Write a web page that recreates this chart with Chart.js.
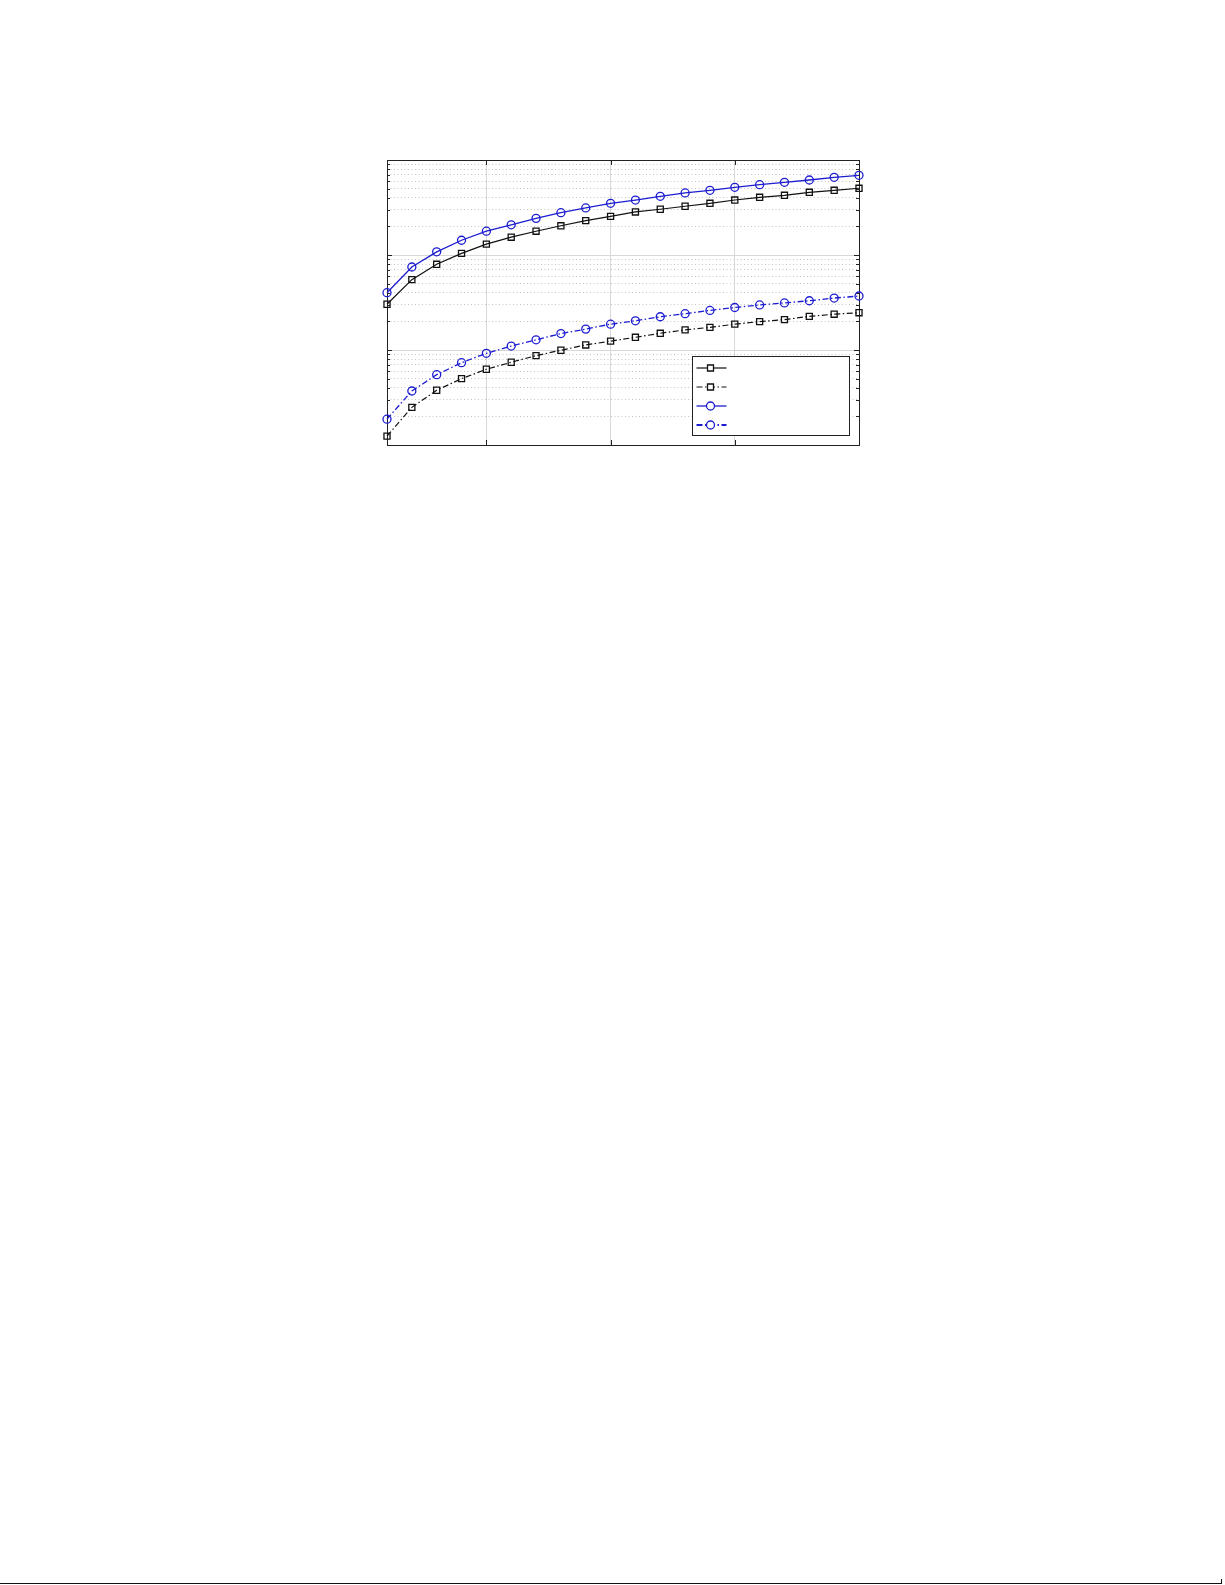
<!DOCTYPE html>
<html>
<head>
<meta charset="utf-8">
<script src="https://cdn.jsdelivr.net/npm/chart.js@4/dist/chart.umd.min.js"></script>
<style>
  body { margin: 0; background: #fff; width: 1225px; height: 1585px; position: relative; overflow: hidden; }
  #wrap { position: absolute; left: 0; top: 0; width: 1225px; height: 500px; }
  #rule { position: absolute; left: 0; top: 1583px; width: 1222px; height: 1px; background: #111; }
  #rulEnd { position: absolute; left: 1221px; top: 1579px; width: 1px; height: 5px; background: #111; }
</style>
</head>
<body>
<div id="wrap"><canvas id="canvas"></canvas></div>
<div id="rule"></div><div id="rulEnd"></div>
<script>
// x positions 1..20
var xs = [1,2,3,4,5,6,7,8,9,10,11,12,13,14,15,16,17,18,19,20];
var xTicks = [5, 10, 15];

// solid black, squares
var sqSolid = [0.0303,0.0550,0.0798,0.104,0.130,0.154,0.178,0.203,0.230,0.255,
               0.284,0.303,0.326,0.350,0.379,0.405,0.425,0.457,0.480,0.504];
// dash-dot black, squares
var sqDash = [0.00124,0.00249,0.00377,0.00499,0.00627,0.00743,0.00872,0.00994,0.0113,0.0124,
              0.0136,0.0150,0.0163,0.0173,0.0187,0.0199,0.0209,0.0226,0.0238,0.0247];
// solid blue, circles
var ciSolid = [0.0401,0.0748,0.108,0.143,0.178,0.208,0.243,0.279,0.313,0.350,
               0.379,0.415,0.450,0.480,0.516,0.550,0.582,0.616,0.657,0.690];
// dash-dot blue, circles
var ciDash = [0.00187,0.00370,0.00550,0.00735,0.00923,0.0110,0.0128,0.0149,0.0166,0.0187,
              0.0203,0.0224,0.0241,0.0261,0.0280,0.0298,0.0313,0.0330,0.0352,0.0370];

var blue = '#1c1cd0';
var dashDot = [6, 2.5, 1.5, 2.5];

function pts(arr) {
    return arr.map(function(v, i) { return {x: xs[i], y: v}; });
}

function isMajor(v) {
    var l = Math.log10(v);
    return Math.abs(l - Math.round(l)) < 1e-6;
}

var frame = {
    id: 'frame',
    beforeDatasetsDraw: function(chart) {
        var c = chart.ctx, a = chart.chartArea;
        var sx = chart.scales.x, sy = chart.scales.y;
        c.save();
        c.strokeStyle = '#222';
        c.lineWidth = 1;
        c.beginPath();
        sy.ticks.forEach(function(t) {
            var y = Math.round(sy.getPixelForValue(t.value)) + 0.5;
            var len = isMajor(t.value) ? 5 : 3;
            c.moveTo(a.left, y); c.lineTo(a.left + len, y);
            c.moveTo(a.right, y); c.lineTo(a.right - len, y);
        });
        xTicks.forEach(function(v) {
            var x = Math.round(sx.getPixelForValue(v)) + 0.5;
            c.moveTo(x, a.top); c.lineTo(x, a.top + 5);
            c.moveTo(x, a.bottom); c.lineTo(x, a.bottom - 5);
        });
        c.stroke();
        c.strokeRect(Math.round(a.left) + 0.5, Math.round(a.top) + 0.5,
                     Math.round(a.right - a.left), Math.round(a.bottom - a.top));
        c.restore();
    }
};

var boxLegend = {
    id: 'boxLegend',
    afterDatasetsDraw: function(chart) {
        var c = chart.ctx, a = chart.chartArea;
        var w = 157, h = 79;
        var left = Math.round(a.right - 10 - w) + 0.5, top = Math.round(a.bottom - 10 - h) + 0.5;
        c.save();
        c.fillStyle = '#fff';
        c.fillRect(left, top, w, h);
        c.strokeStyle = '#222';
        c.lineWidth = 1;
        c.strokeRect(left, top, w, h);
        var rows = [11, 30, 49, 68];
        chart.data.datasets.forEach(function(ds, i) {
            var y = Math.round(top + rows[i]);
            c.strokeStyle = ds.borderColor;
            c.lineWidth = i === 3 ? 2 : ds.borderWidth;
            c.setLineDash(ds.borderDash || []);
            c.beginPath();
            c.moveTo(left + 4, y); c.lineTo(left + 34, y);
            c.stroke();
            c.setLineDash([]);
            c.lineWidth = 1.3;
            var mx = left + 18;
            c.beginPath();
            if (ds.pointStyle === 'rect') {
                c.rect(mx - 3, y - 3, 6, 6);
            } else {
                c.arc(mx, y, 4, 0, Math.PI * 2);
            }
            c.fillStyle = '#fff';
            c.fill();
            c.stroke();
        });
        c.restore();
    }
};

var ctx = document.getElementById('canvas').getContext('2d');
var myChart = new Chart(ctx, {
    type: 'line',
    data: {
        datasets: [{
            data: pts(sqSolid),
            borderColor: '#111',
            borderWidth: 1.2,
            pointStyle: 'rect',
            pointRadius: 4.3,
            pointBorderWidth: 1.3,
            pointBackgroundColor: 'rgba(0,0,0,0)',
            clip: false
        }, {
            data: pts(sqDash),
            borderColor: '#111',
            borderWidth: 1.2,
            borderDash: dashDot,
            pointStyle: 'rect',
            pointRadius: 4.3,
            pointBorderWidth: 1.3,
            pointBackgroundColor: 'rgba(0,0,0,0)',
            clip: false
        }, {
            data: pts(ciSolid),
            borderColor: blue,
            borderWidth: 1.3,
            pointStyle: 'circle',
            pointRadius: 4,
            pointBorderWidth: 1.3,
            pointBackgroundColor: 'rgba(0,0,0,0)',
            clip: false
        }, {
            data: pts(ciDash),
            borderColor: blue,
            borderWidth: 1.3,
            borderDash: dashDot,
            pointStyle: 'circle',
            pointRadius: 4,
            pointBorderWidth: 1.3,
            pointBackgroundColor: 'rgba(0,0,0,0)',
            clip: false
        }]
    },
    options: {
        responsive: true,
        maintainAspectRatio: false,
        animation: false,
        devicePixelRatio: 1,
        layout: { padding: { left: 387, top: 160, right: 366, bottom: 55 }, autoPadding: false },
        plugins: { legend: { display: false }, tooltip: { enabled: false } },
        elements: { line: { tension: 0 } },
        scales: {
            x: {
                type: 'linear',
                min: 1,
                max: 20,
                afterBuildTicks: function(s) { s.ticks = xTicks.map(function(v) { return {value: v}; }); },
                afterFit: function(s) { s.height = 0; },
                ticks: { display: false },
                border: { display: false },
                grid: { color: '#d8d8d8', lineWidth: 1, drawTicks: false }
            },
            y: {
                type: 'logarithmic',
                min: 0.001,
                max: 1,
                afterBuildTicks: function(s) {
                    var t = [];
                    for (var e = -3; e < 0; e++) {
                        for (var m = 1; m < 10; m++) t.push({value: m * Math.pow(10, e)});
                    }
                    t.push({value: 1});
                    s.ticks = t;
                },
                afterFit: function(s) { s.width = 0; },
                ticks: { display: false },
                border: {
                    display: false,
                    dash: function(c) { return c.tick && !isMajor(c.tick.value) ? [1, 2.5] : []; }
                },
                grid: {
                    drawTicks: false,
                    lineWidth: 1,
                    color: function(c) { return c.tick && isMajor(c.tick.value) ? '#d8d8d8' : '#c4c4c4'; }
                }
            }
        }
    },
    plugins: [frame, boxLegend]
});
</script>
</body>
</html>
